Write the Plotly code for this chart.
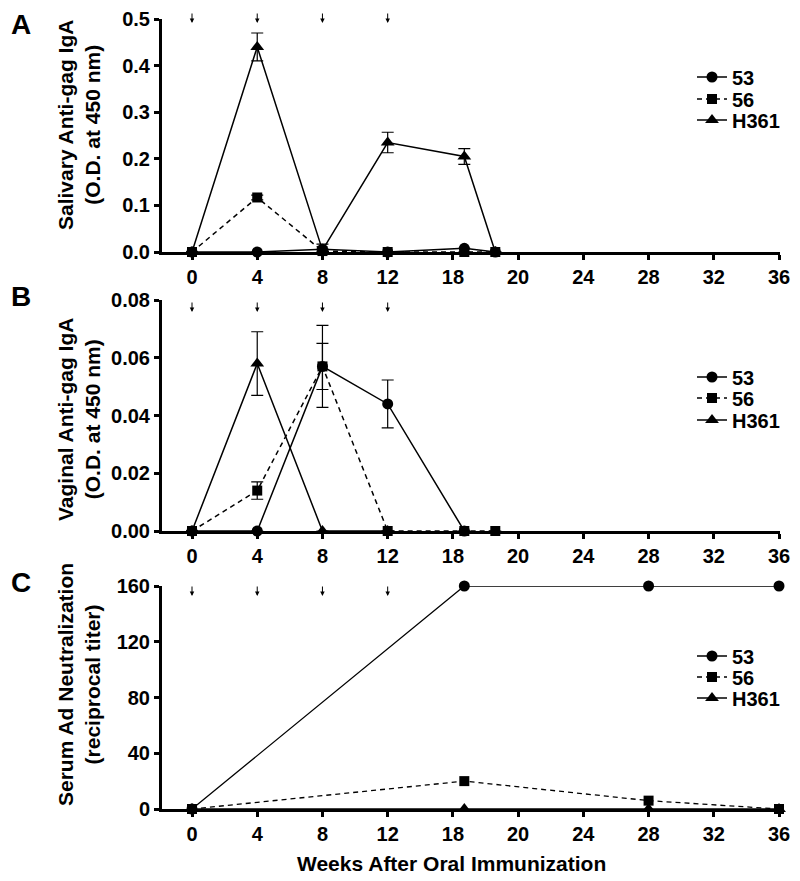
import plotly.graph_objects as go

# ---------------- data ----------------
tick_vals = [0, 4, 8, 12, 16, 20, 24, 28, 32, 36]
tick_text = ["0", "4", "8", "12", "18", "20", "24", "28", "32", "36"]
boost_weeks = [0, 4, 8, 12]
series_names = ["53", "56", "H361"]

# Panel A: salivary anti-gag IgA
weeks_A = [0, 4, 8, 12, 16.7, 18.6]
A_53 = [0, 0, 0.006, 0, 0.008, 0]
A_56 = [0, 0.117, 0.002, 0, 0, 0]
A_H361 = [0, 0.44, 0.004, 0.235, 0.205, 0]
A_53_err = [0, 0, 0, 0, 0, 0]
A_56_err = [0, 0.005, 0, 0, 0, 0]
A_H361_err = [0, 0.03, 0.013, 0.022, 0.017, 0]

# Panel B: vaginal anti-gag IgA
weeks_B = [0, 4, 8, 12, 16.7, 18.6]
B_53 = [0, 0, 0.057, 0.044, 0, None]
B_56 = [0, 0.014, 0.057, 0, 0, 0]
B_H361 = [0, 0.058, 0, 0, None, None]
B_53_err = [0, 0, 0.0142, 0.0083, 0, 0]
B_56_err = [0, 0.003, 0.008, 0, 0, 0]
B_H361_err = [0, 0.011, 0, 0, 0, 0]

# Panel C: serum Ad neutralization
weeks_C = [0, 16.7, 28, 36]
C_53 = [0, 160, 160, 160]
C_56 = [0, 20, 6, 0]
C_H361 = [0, 0, 0, 0]

# ---------------- styling ----------------
FONT = "Liberation Sans"
OFF = 8  # default page body margin
W, H = 800 - OFF, 881 - OFF
symbols = {"53": "circle", "56": "square", "H361": "triangle-up"}
msizes = {"53": 11, "56": 10, "H361": 12}
dashes = {"53": "solid", "56": "5px,4px", "H361": "solid"}

def px(pix):
    return (pix - OFF) / W

def py(pix):
    return 1 - (pix - OFF) / H

fig = go.Figure()

panels = [
    dict(x=weeks_A, ys=[A_53, A_56, A_H361], errs=[A_53_err, A_56_err, A_H361_err],
         xa="x", ya="y", lw=1.5, leg_y=[77, 99, 120]),
    dict(x=weeks_B, ys=[B_53, B_56, B_H361], errs=[B_53_err, B_56_err, B_H361_err],
         xa="x2", ya="y2", lw=1.5, leg_y=[377, 398, 420]),
    dict(x=weeks_C, ys=[C_53, C_56, C_H361], errs=[None, None, None],
         xa="x3", ya="y3", lw=1.3, leg_y=[656, 677, 698]),
]

legend_common = dict(x=px(692), xanchor="left", yanchor="middle", bgcolor="rgba(0,0,0,0)",
                     font=dict(family=FONT, size=20, color="black", weight="bold"),
                     itemwidth=30)
legend_layout = {}
k = 0
for p in panels:
    for name, y, e, ly in zip(series_names, p["ys"], p["errs"], p["leg_y"]):
        k += 1
        lname = "legend" if k == 1 else "legend" + str(k)
        legend_layout[lname] = dict(y=py(ly), **legend_common)
        kw = {}
        if e is not None:
            kw["error_y"] = dict(type="data", array=e, visible=True, color="black",
                                 thickness=1.2, width=6)
        fig.add_trace(go.Scatter(
            x=p["x"], y=y, name=name, mode="lines+markers", showlegend=True,
            line=dict(color="black", width=p["lw"], dash=dashes[name]),
            marker=dict(symbol=symbols[name], size=msizes[name], color="black"),
            xaxis=p["xa"], yaxis=p["ya"], legend=lname,
            cliponaxis=False, connectgaps=False, **kw))

x_dom = [px(162), px(780)]
x_rng = [-1.84, 36.06]
y_doms = [[py(252), py(19)], [py(531), py(300)], [py(809), py(586)]]
y_rngs = [[0, 0.5], [0, 0.08], [0, 160]]
y_ticks = [[0, 0.1, 0.2, 0.3, 0.4, 0.5], [0, 0.02, 0.04, 0.06, 0.08], [0, 40, 80, 120, 160]]
y_fmt = [".1f", ".2f", "d"]

tickfont = dict(family=FONT, size=20, color="black", weight="bold")
axis_common = dict(showline=True, linecolor="black", linewidth=3, ticks="outside",
                   ticklen=5, tickwidth=3, tickcolor="black", showgrid=False,
                   zeroline=False, tickfont=tickfont, automargin=False)

layout = dict(width=W, height=H, margin=dict(l=0, r=0, t=0, b=0, pad=0, autoexpand=False),
              paper_bgcolor="white", plot_bgcolor="white", showlegend=True)
for i in range(3):
    sx = "" if i == 0 else str(i + 1)
    layout["xaxis" + sx] = dict(domain=x_dom, range=x_rng, tickvals=tick_vals,
                                ticktext=tick_text, anchor="y" + sx, **axis_common)
    layout["yaxis" + sx] = dict(domain=y_doms[i], range=y_rngs[i], tickvals=y_ticks[i],
                                tickformat=y_fmt[i], anchor="x" + sx, **axis_common)
layout.update(legend_layout)
fig.update_layout(**layout)

# y-axis titles
titles = [("Salivary Anti-gag IgA<br>(O.D. at 450 nm)", 125),
          ("Vaginal Anti-gag IgA<br>(O.D. at 450 nm)", 420),
          ("Serum Ad Neutralization<br>(reciprocal titer)", 685)]
for t, yc in titles:
    fig.add_annotation(text=t, xref="paper", yref="paper", x=px(79), y=py(yc),
                       xanchor="center", yanchor="middle", textangle=-90, showarrow=False,
                       font=dict(family=FONT, size=21, color="black", weight="bold"))

# panel letters
letter_font = dict(family=FONT, size=28, color="black", weight="bold")
fig.add_annotation(text="A", xref="paper", yref="paper", x=px(21), y=1.0,
                   xanchor="center", yanchor="top", showarrow=False, borderpad=0,
                   font=letter_font)
for letter, ycen in [("B", 297), ("C", 582)]:
    fig.add_annotation(text=letter, xref="paper", yref="paper", x=px(21), y=py(ycen),
                       xanchor="center", yanchor="middle", showarrow=False,
                       font=letter_font)

# x-axis title
fig.add_annotation(text="Weeks After Oral Immunization", xref="paper", yref="paper",
                   x=px(452), y=py(863), xanchor="center", yanchor="middle", showarrow=False,
                   font=dict(family=FONT, size=21, color="black", weight="bold"))

# immunization arrows
arrow_tips = [23, 312, 596]
for i, tip in enumerate(arrow_tips):
    sx = "x" if i == 0 else "x" + str(i + 1)
    for wk in boost_weeks:
        fig.add_annotation(x=wk, xref=sx, yref="paper", y=py(tip), text="",
                           showarrow=True, arrowhead=2, arrowsize=0.9, arrowwidth=1,
                           arrowcolor="black", ax=0, ay=-11)

fig.write_html("out.html")
